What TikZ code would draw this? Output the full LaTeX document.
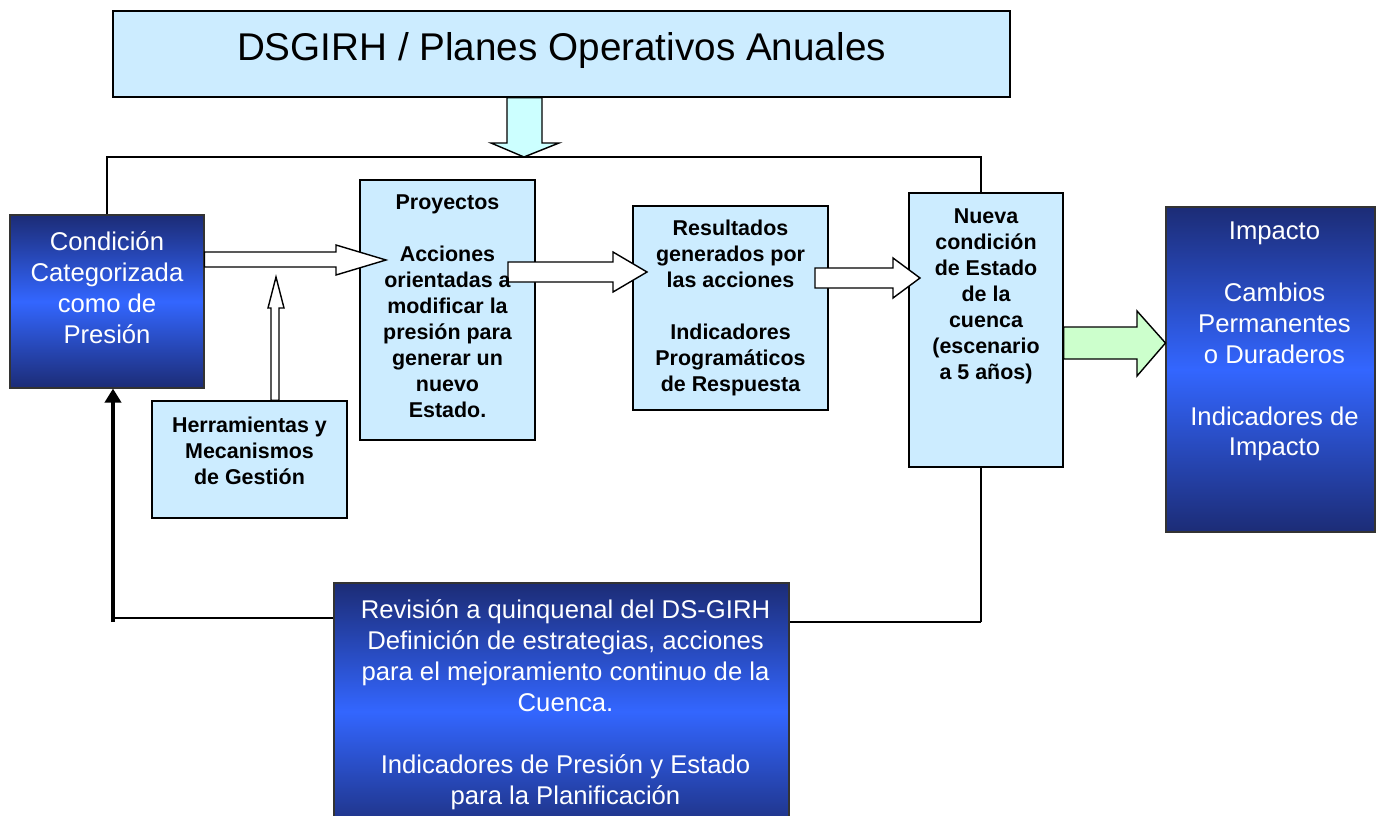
\documentclass[tikz,border=0pt]{standalone}
\usepackage{fontspec}
\setmainfont{Liberation Sans}
\usetikzlibrary{positioning,arrows.meta,calc}
\definecolor{paleblue}{RGB}{204,236,255}
\definecolor{palecyan}{RGB}{204,255,255}
\definecolor{palegreen}{RGB}{204,255,204}
\definecolor{deepnavy}{RGB}{28,44,118}
\definecolor{brightblue}{RGB}{51,102,255}
\tikzset{
  lbox/.style={draw=black,line width=0.8pt,fill=paleblue,inner sep=0pt},
  dbox/.style={draw=black!80,line width=0.6pt,top color=deepnavy,bottom color=deepnavy,
    middle color=brightblue,inner sep=0pt},
  btxt/.style={font=\fontsize{12.2}{14.8}\selectfont\bfseries,align=center,inner sep=0pt},
  wtxt/.style={font=\fontsize{14.6}{17.6}\selectfont,text=white,align=center,inner sep=0pt},
  ttxt/.style={font=\fontsize{22}{26}\selectfont,inner sep=0pt},
  blk/.style={draw=black,line width=0.8pt,line join=miter},  % block arrow outline
  link/.style={line width=0.9pt},
  fback/.style={line width=2.2pt,-{Triangle[length=2.8mm,width=3.2mm]}}, % feedback arrow
}

\begin{document}
\begin{tikzpicture}[x=0.2mm,y=-0.2mm]
  \useasboundingbox (0,0) rectangle (1383,815);
  \clip (0,0) rectangle (1383,815);
  \fill[white] (0,0) rectangle (1383,815);

  % boxes
  \node[lbox,minimum width=179.4mm,minimum height=17.2mm] (dsg) at (561.5,54) {};
  \node[dbox,minimum width=38.8mm,minimum height=34.6mm] (cond) at (107,301.5) {};
  \node[lbox,minimum width=39mm,minimum height=23.4mm] (herr) at (249.5,459.5) {};
  \node[lbox,minimum width=35mm,minimum height=52mm] (proy) at (447.5,310) {};
  \node[lbox,minimum width=39mm,minimum height=40.8mm] (res) at (730.5,308) {};
  \node[lbox,minimum width=30.8mm,minimum height=54.8mm] (nueva) at (986,330) {};
  \node[dbox,minimum width=41.8mm,minimum height=65mm] (imp) at (1270.5,369.5) {};
  \node[dbox,minimum width=91mm,minimum height=51.4mm] (rev) at (561.5,711.5) {};

  % loop lines
  \draw[link] (cond.north) |- (981,157) -- ($(nueva.north)+(-5,0)$);
  \draw[link] ($(nueva.south)+(-5,0)$) -- (981,622);
  \draw[line width=1.6pt] (981,622) -- (rev.east |- 0,622);
  \draw[link] (rev.west |- 0,618) -- (113,618);
  \draw[fback] (113,622) -- (cond.south -| 113,0);

  % block arrows
  \draw[blk,fill=palecyan] (dsg.south -| 507,0) -- (507,143) -- (491,143) -- (524,157)
    -- (559,143) -- (542,143) -- (dsg.south -| 542,0) -- cycle;
  \draw[blk,fill=white] (cond.east |- 0,252) -- (336,252) -- (336,245) -- (386,260)
    -- (336,275) -- (336,267) -- (cond.east |- 0,267) -- cycle;
  \draw[blk,fill=white] (herr.north -| 271,0) -- (271,308) -- (268,308) -- (276,277)
    -- (284,308) -- (279,308) -- (herr.north -| 279,0) -- cycle;
  \draw[blk,fill=white] (508,262) -- (613,262) -- (613,252) -- (647,272)
    -- (613,292) -- (613,282) -- (508,282) -- cycle;
  \draw[blk,fill=white] (815,268) -- (893,268) -- (893,258) -- (920,278)
    -- (893,298) -- (893,288) -- (815,288) -- cycle;
  \draw[blk,fill=palegreen] (nueva.east |- 0,327) -- (1137,327) -- (1137,311) -- (imp.west |- 0,343)
    -- (1137,376) -- (1137,359) -- (nueva.east |- 0,359) -- cycle;

  % texts
  \node[ttxt,anchor=north] (dsg-t) at ($(dsg.north)+(0,22)$) {DSGIRH / Planes Operativos Anuales};
  \node[wtxt,anchor=north] (cond-t) at ($(cond.north)+(0,17)$) {Condición\\Categorizada\\como de\\Presión};
  \node[btxt,anchor=north] (herr-t) at ($(herr.north)+(0,16)$) {Herramientas y\\Mecanismos\\de Gestión};
  \node[btxt,anchor=north] (proy-t) at ($(proy.north)+(0,15)$)
    {Proyectos\\[14.8pt]Acciones\\orientadas a\\modificar la\\presión para\\generar un\\nuevo\\Estado.};
  \node[btxt,anchor=north] (res-t) at ($(res.north)+(0,14)$)
    {Resultados\\generados por\\las acciones\\[14.8pt]Indicadores\\Programáticos\\de Respuesta};
  \node[btxt,anchor=north] (nueva-t) at ($(nueva.north)+(0,16)$)
    {Nueva\\condición\\de Estado\\de la\\cuenca\\(escenario\\a 5 años)};
  \node[wtxt,anchor=north] (imp-t) at ($(imp.north)+(4,15)$)
    {Impacto\\[17.6pt]Cambios\\Permanentes\\o Duraderos\\[17.6pt]Indicadores de\\Impacto};
  \node[wtxt,anchor=north] (rev-t) at ($(rev.north)+(4,17)$)
    {Revisión a quinquenal del DS-GIRH\\Definición de estrategias, acciones\\para el mejoramiento continuo de la\\Cuenca.\\[17.6pt]Indicadores de Presión y Estado\\para la Planificación};
\end{tikzpicture}
\end{document}
